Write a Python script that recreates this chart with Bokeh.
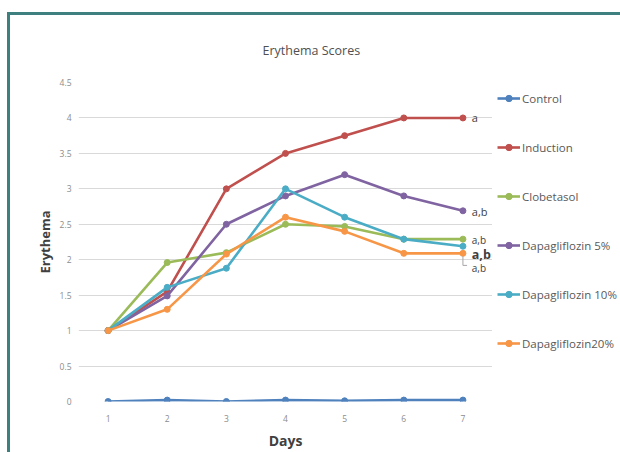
from bokeh.plotting import figure
from bokeh.layouts import row
from bokeh.models import Legend, LegendItem, Label, FixedTicker
from bokeh.embed import file_html
from bokeh.resources import INLINE

# ---- data ----
days = [1, 2, 3, 4, 5, 6, 7]
control = [0.0, 0.02, 0.0, 0.02, 0.01, 0.02, 0.02]
induction = [1.0, 1.55, 3.0, 3.5, 3.75, 4.0, 4.0]
clobetasol = [1.0, 1.96, 2.1, 2.5, 2.47, 2.29, 2.29]
dapa5 = [1.0, 1.49, 2.5, 2.9, 3.2, 2.9, 2.69]
dapa10 = [1.0, 1.61, 1.88, 3.0, 2.6, 2.29, 2.19]
dapa20 = [1.0, 1.3, 2.08, 2.6, 2.4, 2.09, 2.09]

series_names = ["Control", "Induction", "Clobetasol", "Dapagliflozin 5%",
                "Dapagliflozin 10%", "Dapagliflozin20%"]
series_values = [control, induction, clobetasol, dapa5, dapa10, dapa20]
colors = ["#4F81BD", "#C0504D", "#9BBB59", "#8064A2", "#4BACC6", "#F79646"]

y_ticks = [0, 0.5, 1, 1.5, 2, 2.5, 3, 3.5, 4, 4.5]
y_tick_labels = ["0", "0.5", "1", "1.5", "2", "2.5", "3", "3.5", "4", "4.5"]

# significance annotations near day 7
sig_labels = ["a", "a,b", "a,b", "a,b", "a,b"]
sig_y = [4.0, 2.68, 2.28, 2.08, 1.88]
sig_size = ["11px", "11px", "10px", "12.5px", "10px"]
sig_bold = ["normal", "normal", "normal", "bold", "normal"]

FONT = "Open Sans"

p = figure(width=482, height=437, x_range=(0.5, 7.5), y_range=(0, 4.5),
           output_backend="svg", toolbar_location=None,
           min_border_left=68, min_border_right=0,
           min_border_top=53, min_border_bottom=51)

p.title.text = "Erythema Scores"
p.title.align = "left"
p.title.offset = 184
p.title.text_font = FONT
p.title.text_font_size = "12.5px"
p.title.text_font_style = "normal"
p.title.text_color = "#505050"
p.title.standoff = 48

p.outline_line_color = None
p.xgrid.grid_line_color = None
p.ygrid.grid_line_color = "#d9d9d9"
p.ygrid.grid_line_width = 1

p.yaxis.ticker = FixedTicker(ticks=y_ticks)
p.yaxis.major_label_overrides = {t: l for t, l in zip(y_ticks, y_tick_labels)}
p.xaxis.ticker = FixedTicker(ticks=days)
p.xaxis.major_label_overrides = {d: str(d) for d in days}

for ax in (p.xaxis[0], p.yaxis[0]):
    ax.axis_line_color = None
    ax.major_tick_line_color = None
    ax.minor_tick_line_color = None
    ax.major_label_text_font = FONT
    ax.major_label_text_font_size = "8.5px"
    ax.major_label_text_color = "#8c8c8c"
    ax.axis_label_text_font = FONT
    ax.axis_label_text_font_style = "bold"
    ax.axis_label_text_color = "#404040"

p.yaxis.axis_label = "Erythema"
p.yaxis.axis_label_text_font_size = "13px"
p.yaxis.major_label_standoff = 1
p.yaxis.axis_label_standoff = 3
p.xaxis.axis_label = "Days"
p.xaxis.axis_label_text_font_size = "14px"
p.xaxis.major_label_standoff = 7
p.xaxis.axis_label_standoff = 6

for name, vals, c in zip(series_names, series_values, colors):
    p.line(days, vals, line_color=c, line_width=2.6)
    p.scatter(days, vals, size=6, fill_color=c, line_color=c)

for t, yv, fs, fw in zip(sig_labels, sig_y, sig_size, sig_bold):
    p.add_layout(Label(x=7.15, y=yv, text=t, text_font=FONT, text_font_size=fs,
                       text_font_style=fw, text_color="#404040",
                       text_baseline="middle", text_align="left"))

# leader line from the orange marker down to the lowest label
p.line([7.0, 7.0, 7.07], [2.05, 1.92, 1.92], line_color="#a6a6a6", line_width=1)

# ---- legend panel on the right ----
lg = figure(width=128, height=437, x_range=(0, 1), y_range=(0, 1),
            output_backend="svg", toolbar_location=None, title=None,
            x_axis_type=None, y_axis_type=None,
            min_border_left=0, min_border_right=0,
            min_border_top=0, min_border_bottom=0)
lg.outline_line_color = None
lg.xgrid.visible = False
lg.ygrid.visible = False

items = []
for name, vals, c in zip(series_names, series_values, colors):
    # drawn outside this panel's ranges: only the legend swatch is seen
    r1 = lg.line([d + 10 for d in days], vals, line_color=c, line_width=2.6)
    r2 = lg.scatter([d + 10 for d in days], vals, size=6, fill_color=c, line_color=c)
    items.append(LegendItem(label=name, renderers=[r1, r2]))

legend = Legend(items=items, location=(5, 50), orientation="vertical",
                background_fill_alpha=0, border_line_color=None,
                label_text_font=FONT, label_text_font_size="11.5px",
                label_text_color="#595959", glyph_width=23, glyph_height=16,
                label_height=16, label_standoff=2, spacing=33,
                padding=0, margin=0)
lg.add_layout(legend, "center")

layout = row(p, lg, spacing=0)

# teal frame: left and top edges of the chart box (right/bottom run off the page)
layout.styles = {
    "margin-left": "7px",
    "margin-top": "12px",
    "border-left": "3px solid #3E8080",
    "border-top": "3px solid #3E8080",
}

open("out.html", "w").write(file_html(layout, INLINE))
